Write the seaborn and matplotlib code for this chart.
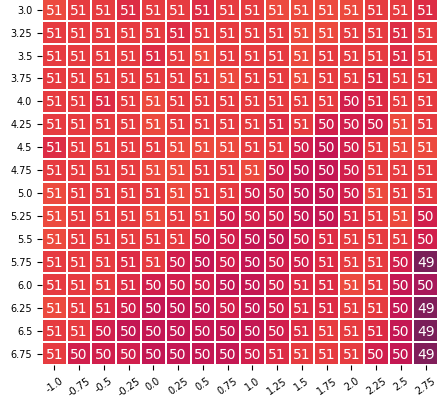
import numpy as np
import pandas as pd
import seaborn as sns
import matplotlib.pyplot as plt

# row / column labels
row_labels = [3.0, 3.25, 3.5, 3.75, 4.0, 4.25, 4.5, 4.75, 5.0, 5.25, 5.5, 5.75, 6.0, 6.25, 6.5, 6.75]
col_labels = [-1.0, -0.75, -0.5, -0.25, 0.0, 0.25, 0.5, 0.75, 1.0, 1.25, 1.5, 1.75, 2.0, 2.25, 2.5, 2.75]

# cell values (shown rounded)
a, b, c = 51.2, 50.95, 50.7
d, e = 50.4, 50.1
values = [
    [a, b, b, c, b, b, c, b, b, a, a, a, a, b, b, c],
    [b, b, b, b, b, c, b, b, b, b, a, a, b, b, c, b],
    [b, b, b, b, c, b, a, b, b, b, a, b, b, b, c, b],
    [b, b, b, b, b, b, b, a, b, b, a, b, b, c, b, b],
    [b, b, c, b, a, b, b, b, b, b, b, b, d, c, b, b],
    [b, b, b, b, a, b, b, b, b, c, b, d, d, d, a, b],
    [c, b, b, b, b, a, a, a, b, b, d, e, d, b, a, a],
    [b, b, b, b, a, a, b, b, a, d, e, e, d, b, b, b],
    [a, b, b, b, b, a, b, b, d, d, e, e, d, a, b, b],
    [a, b, b, b, a, b, b, d, d, d, e, e, c, b, a, d],
    [a, b, b, b, b, b, d, d, e, e, d, c, b, b, b, d],
    [b, b, b, c, b, d, e, d, e, d, d, c, b, b, d, 48.8],
    [b, b, b, c, d, d, d, e, e, d, c, c, a, b, e, 49.6],
    [a, b, c, d, e, e, e, d, e, d, c, c, b, b, e, 48.9],
    [b, b, d, e, e, e, e, e, e, d, c, b, b, c, e, 48.8],
    [b, d, d, d, e, e, e, e, d, c, b, b, b, d, e, 48.9],
]

df = pd.DataFrame(values, index=row_labels, columns=col_labels)

fig = plt.figure(figsize=(4.42, 4.10), dpi=100)
ax = fig.add_axes([0.095, 0.107, 0.896, 0.895])
sns.heatmap(df, ax=ax, cmap='rocket', vmin=46.4, vmax=54.1, annot=True, fmt='.0f',
            annot_kws={'size': 10}, linewidths=1.3, linecolor='white', cbar=False)
ax.tick_params(axis='both', labelsize=7)
plt.setp(ax.get_xticklabels(), rotation=35)
plt.setp(ax.get_yticklabels(), rotation=0)

plt.savefig('out.png', dpi=100)
plt.close()
